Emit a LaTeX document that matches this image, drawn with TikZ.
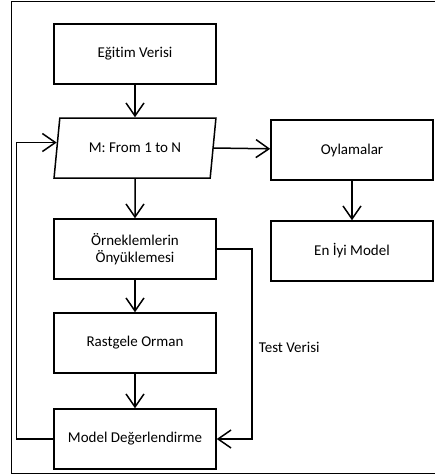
\documentclass[tikz,border=0pt]{standalone}
\usepackage{fontspec}
\setmainfont[Ligatures=NoCommon]{Carlito}
\usetikzlibrary{arrows.meta,shapes.geometric}

\begin{document}
\begin{tikzpicture}[x=1pt,y=-1pt,
  box/.style={draw,line width=1.5pt,minimum width=162pt,minimum height=60pt,align=center,font=\fontsize{15}{17}\selectfont},
  para/.style={draw,line width=1.5pt,trapezium,trapezium left angle=77,trapezium right angle=103,trapezium stretches=true,minimum width=162pt,minimum height=60pt,font=\fontsize{15}{17}\selectfont},
  arr/.style={line width=1.5pt,-{Straight Barb[length=13pt,width=18pt,line width=1.5pt]}}]
\useasboundingbox (0,0) rectangle (435,475);
\draw[line width=1pt] (436,1) -- (11,1) -- (11,473) -- (436,473);
\node[box] (egitim) at (135,54) {Eğitim Verisi};
\node[para] (loop) at (135,148) {M: From 1 to N};
\node[box] (oyla) at (352,150) {Oylamalar};
\node[box] (eniyi) at (352,251) {En İyi Model};
\node[box] (boot) at (135,249) {Örneklemlerin\\Önyüklemesi};
\node[box] (orman) at (135,343) {Rastgele Orman};
\node[box] (deger) at (135,439) {Model Değerlendirme};
\draw[arr] (egitim) -- (loop);
\draw[arr] (loop) -- (boot);
\draw[arr] (loop.east) -- (oyla);
\draw[arr] (oyla) -- (eniyi);
\draw[arr] (boot) -- (orman);
\draw[arr] (orman) -- (deger);
\draw[arr] (boot.east) -- ++(35,0) |- (deger.east)
  node[pos=0.26,right,xshift=3pt,font=\fontsize{15}{17}\selectfont] {Test Verisi};
\draw[arr] (deger.west) -- ++(-37,0) |- (loop.176);
\end{tikzpicture}
\end{document}
